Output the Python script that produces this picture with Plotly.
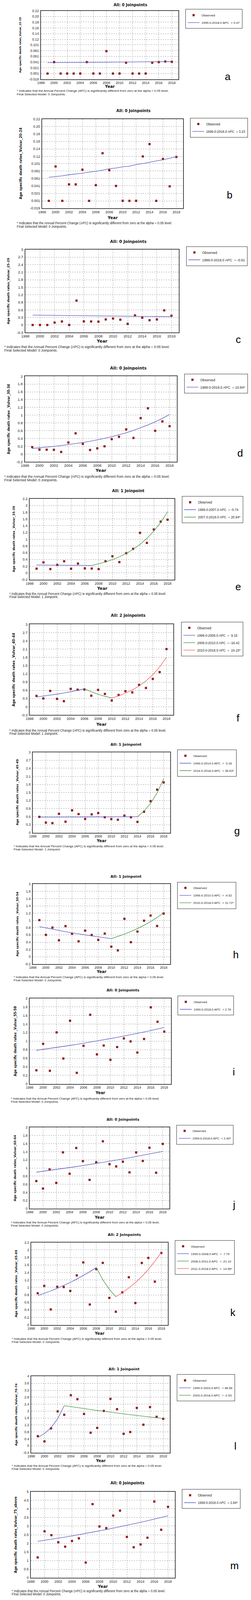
import plotly.graph_objects as go

W, H = 643, 5608
# the photographed area stops near 4096 px, so the page layout is packed into that height
VS = 4080 / 5608

# ── Data ──────────────────────────────────────────────────────────────────────

YEARS = list(range(1999, 2019))
X_TICKS = ["1998", "2000", "2002", "2004", "2006", "2008", "2010", "2012", "2014", "2016", "2018"]

TICKS_SMALL = ["-0.019", "0.001", "0.021", "0.041", "0.061", "0.081", "0.101",
               "0.12", "0.14", "0.16", "0.18", "0.20", "0.22"]
TICKS_03_3 = ["-0.3", "0", "0.3", "0.6", "0.9", "1.2", "1.5", "1.8", "2.1", "2.4", "2.7", "3"]
TICKS_02_2 = ["-0.2", "0", "0.2", "0.4", "0.6", "0.8", "1", "1.2", "1.4", "1.6", "1.8", "2"]
TICKS_02_22 = ["-0.2", "0", "0.2", "0.4", "0.6", "0.8", "1", "1.2", "1.4", "1.6", "1.8", "2", "2.2"]
TICKS_0_3 = ["0", "0.3", "0.6", "0.9", "1.2", "1.5", "1.8", "2.1", "2.4", "2.7", "3"]
TICKS_0_2 = ["0", "0.2", "0.4", "0.6", "0.8", "1", "1.2", "1.4", "1.6", "1.8", "2"]
TICKS_0_22 = ["0", "0.2", "0.4", "0.6", "0.8", "1", "1.2", "1.4", "1.6", "1.8", "2", "2.2"]
TICKS_04_4 = ["-0.4", "0", "0.4", "0.8", "1.2", "1.6", "2", "2.4", "2.8", "3.2", "3.6", "4"]
TICKS_0_5 = ["0", "0.5", "1", "1.5", "2", "2.5", "3", "3.5", "4", "4.5", "5"]

A_OBS = [0.001, 0.041, 0.001, 0.001, 0.001, 0.001, 0.041, 0.001, 0.001, 0.079,
         0.001, 0.001, 0.039, 0.001, 0.001, 0.001, 0.039, 0.041, 0.043, 0.042]
A_FIT = [[0.0390, 0.0392, 0.0394, 0.0396, 0.0398, 0.0400, 0.0402, 0.0404, 0.0405, 0.0407,
          0.0409, 0.0411, 0.0413, 0.0415, 0.0417, 0.0419, 0.0421, 0.0423, 0.0425, 0.0427]]
A_JOINS = [1999, 2018]
A_LEG = ["1999.0-2018.0 APC  = 0.47"]

B_OBS = [0.001, 0.093, 0.001, 0.045, 0.045, 0.0845, 0.001, 0.043, 0.1286, 0.083,
         0.041, 0.001, 0.001, 0.001, 0.120, 0.153, 0.001, 0.113, 0.040, 0.1185]
B_FIT = [[0.064, 0.066, 0.068, 0.071, 0.073, 0.075, 0.078, 0.080, 0.083, 0.087,
          0.089, 0.092, 0.094, 0.098, 0.101, 0.104, 0.108, 0.111, 0.115, 0.119]]
B_JOINS = [1999, 2018]
B_LEG = ["1999.0-2018.0 APC  = 3.23"]

C_OBS = [0, 0, 0, 0.094, 0.14, 0, 0.97, 0.143, 0.14, 0.132,
         0.22, 0.256, 0.21, 0.045, 0.38, 0.286, 0.19, 0.22, 0.58, 0.366]
C_FIT = [[0.392, 0.388, 0.385, 0.381, 0.378, 0.375, 0.371, 0.368, 0.365, 0.361,
          0.358, 0.355, 0.352, 0.348, 0.345, 0.342, 0.339, 0.336, 0.333, 0.330]]
C_JOINS = [1999, 2018]
C_LEG = ["1999.0-2018.0 APC  = -0.91"]

D_OBS = [0.178, 0.115, 0.112, 0.11, 0.054, 0.298, 0.532, 0.261, 0.105, 0.146,
         0.198, 0.383, 0.444, 0.634, 0.412, 0.922, 1.176, 0.598, 0.839, 0.717]
D_FIT = [[0.144, 0.160, 0.177, 0.196, 0.217, 0.241, 0.267, 0.296, 0.328, 0.363,
          0.403, 0.446, 0.495, 0.548, 0.608, 0.674, 0.747, 0.828, 0.917, 1.017]]
D_JOINS = [1999, 2018]
D_LEG = ["1999.0-2018.0 APC  = 10.84*"]

E_OBS = [0.129, 0.314, 0.118, 0.241, 0.348, 0.126, 0.28, 0.137, 0.132, 0.115,
         0.348, 0.497, 0.323, 0.586, 0.715, 1.192, 0.892, 1.29, 1.523, 1.579]
E_FIT = [[0.238, 0.236, 0.234, 0.233, 0.231, 0.229, 0.228, 0.226, 0.224],
         [0.224, 0.271, 0.328, 0.396, 0.479, 0.579, 0.701, 0.848, 1.025, 1.240, 1.499, 1.813]]
E_JOINS = [1999, 2007, 2018]
E_LEG = ["1999.0-2007.0 APC  = -0.74", "2007.0-2018.0 APC  = 20.94*"]

F_OBS = [0.396, 0.303, 0.578, 0.286, 0.203, 0.654, 0.623, 0.63, 0.403, 0.612,
         0.468, 0.23, 0.43, 0.568, 0.523, 0.795, 0.685, 1.015, 1.263, 2.102]
F_FIT = [[0.354, 0.386, 0.422, 0.460, 0.502, 0.548, 0.599, 0.654],
         [0.654, 0.547, 0.457, 0.382, 0.319],
         [0.319, 0.396, 0.492, 0.611, 0.758, 0.941, 1.168, 1.450, 1.800]]
F_JOINS = [1999, 2006, 2010, 2018]
F_LEG = ["1999.0-2006.0 APC  =  9.15", "2006.0-2010.0 APC  = -16.42", "2010.0-2018.0 APC  =  24.15*"]

G_OBS = [0.59, 0.375, 0.357, 0.703, 0.41, 0.834, 0.693, 0.512, 0.682, 0.731,
         0.576, 0.509, 0.484, 0.636, 0.576, 0.403, 0.781, 1.177, 1.604, 1.876]
G_FIT = [[0.580, 0.581, 0.582, 0.583, 0.584, 0.585, 0.585, 0.586, 0.587, 0.588,
          0.589, 0.590, 0.591, 0.592, 0.593, 0.594],
         [0.594, 0.806, 1.093, 1.482, 2.010]]
G_JOINS = [1999, 2014, 2018]
G_LEG = ["1999.0-2014.0 APC  =  0.16", "2014.0-2018.0 APC  = 35.63*"]

H_OBS = [1.009, 0.601, 0.803, 0.452, 0.844, 0.633, 0.424, 0.719, 0.599, 0.463,
         0.638, 0.277, 0.175, 1.043, 0.4, 0.693, 0.993, 1.135, 0.847, 1.19]
H_FIT = [[0.829, 0.792, 0.756, 0.721, 0.689, 0.658, 0.628, 0.600, 0.573, 0.547, 0.522, 0.498],
         [0.498, 0.556, 0.622, 0.694, 0.776, 0.867, 0.968, 1.082, 1.208]]
H_JOINS = [1999, 2010, 2018]
H_LEG = ["1999.0-2010.0 APC  = -4.52", "2010.0-2018.0 APC  = 11.72*"]

I_OBS = [0.319, 0.937, 0.306, 1.205, 0.594, 1.477, 0.259, 0.89, 1.617, 0.689,
         0.897, 0.563, 0.862, 1.063, 0.994, 0.733, 1.05, 1.79, 1.453, 1.223]
I_FIT = [[0.786, 0.808, 0.830, 0.853, 0.876, 0.900, 0.925, 0.951, 0.977, 1.004,
          1.032, 1.060, 1.089, 1.119, 1.150, 1.182, 1.215, 1.248, 1.283, 1.318]]
I_JOINS = [1999, 2018]
I_LEG = ["1999.0-2018.0 APC  = 2.76"]

J_OBS = [0.679, 0.495, 0.965, 0.635, 1.386, 0.86, 1.493, 1.17, 0.709, 1.142,
         1.658, 1.095, 1.04, 1.156, 0.893, 1.384, 1.174, 1.5, 0.884, 1.593]
J_FIT = [[0.898, 0.920, 0.942, 0.964, 0.987, 1.011, 1.035, 1.060, 1.086, 1.112,
          1.138, 1.166, 1.194, 1.222, 1.252, 1.282, 1.312, 1.344, 1.376, 1.409]]
J_JOINS = [1999, 2018]
J_LEG = ["1999.0-2018.0 APC  = 2.40*"]

K_OBS = [0.845, 1.044, 0.412, 1.016, 1.011, 0.908, 1.322, 1.669, 0.544, 1.489,
         1.656, 0.721, 0.351, 0.867, 1.272, 0.584, 1.654, 1.788, 1.156, 1.922]
K_FIT = [[0.781, 0.842, 0.907, 0.977, 1.053, 1.134, 1.222, 1.317, 1.419, 1.529],
         [1.529, 1.206, 0.952, 0.751],
         [0.751, 0.860, 0.985, 1.129, 1.293, 1.481, 1.697, 1.943]]
K_JOINS = [1999, 2008, 2011, 2018]
K_LEG = ["1999.0-2008.0 APC  =  7.75", "2008.0-2011.0 APC  = -21.10", "2011.0-2018.0 APC  =  14.55*"]

L_OBS = [0.557, 0.256, 1.005, 1.982, 1.79, 2.913, 2.685, 1.836, 0.758, 1.032,
         2.009, 2.703, 2.11, 0.694, 0.795, 2.183, 1.215, 2.228, 1.671, 1.553]
L_FIT = [[0.475, 0.706, 1.048, 1.557, 2.314],
         [2.314, 2.255, 2.198, 2.143, 2.089, 2.036, 1.984, 1.934, 1.885, 1.837,
          1.791, 1.746, 1.701, 1.658, 1.616, 1.575]]
L_JOINS = [1999, 2003, 2018]
L_LEG = ["1999.0-2003.0 APC  = 48.56", "2003.0-2018.0 APC  = -2.53"]

M_OBS = [1.183, 2.699, 2.477, 2.07, 1.811, 2.135, 2.292, 0.887, 4.279, 2.985,
         2.884, 3.614, 3.9, 2.375, 1.775, 1.941, 2.329, 4.427, 2.791, 4.122]
M_FIT = [[2.117, 2.177, 2.239, 2.303, 2.368, 2.435, 2.505, 2.576, 2.649, 2.724,
          2.802, 2.881, 2.963, 3.047, 3.134, 3.223, 3.314, 3.408, 3.505, 3.605]]
M_JOINS = [1999, 2018]
M_LEG = ["1999.0-2018.0 APC  = 2.84*"]

# panel: letter, data, y title, chart title, footnote model, y ticks
PANELS = [
    ("a", A_OBS, A_FIT, A_JOINS, A_LEG, "Age specific death rates_Vulvar_15-19", "All: 0 Joinpoints", "0 Joinpoints", TICKS_SMALL),
    ("b", B_OBS, B_FIT, B_JOINS, B_LEG, "Age specific death rates_Vulvar_20-24", "All: 0 Joinpoints", "0 Joinpoints", TICKS_SMALL),
    ("c", C_OBS, C_FIT, C_JOINS, C_LEG, "Age specific death rates_Vulvar_25-29", "All: 0 Joinpoints", "0 Joinpoints", TICKS_03_3),
    ("d", D_OBS, D_FIT, D_JOINS, D_LEG, "Age specific death rates _Vulvar_30-34", "All: 0 Joinpoints", "0 Joinpoints", TICKS_02_2),
    ("e", E_OBS, E_FIT, E_JOINS, E_LEG, "Age specific death rates _Vulvar_35-39", "All: 1 Joinpoint", "1 Joinpoint", TICKS_02_22),
    ("f", F_OBS, F_FIT, F_JOINS, F_LEG, "Age specific death rates _Vulvar_40-44", "All: 2 Joinpoints", "1 Joinpoint", TICKS_03_3),
    ("g", G_OBS, G_FIT, G_JOINS, G_LEG, "Age specific death rates _Vulvar_45-49", "All: 1 Joinpoint", "1 Joinpoint", TICKS_0_3),
    ("h", H_OBS, H_FIT, H_JOINS, H_LEG, "Age specific death rates _Vulvar_50-54", "All: 1 Joinpoint", "0 Joinpoints", TICKS_02_2),
    ("i", I_OBS, I_FIT, I_JOINS, I_LEG, "Age specific death rates _Vulvar_55-59", "All: 0 Joinpoints", "0 Joinpoints", TICKS_0_2),
    ("j", J_OBS, J_FIT, J_JOINS, J_LEG, "Age specific death rates_Vulvar_60-64", "All: 0 Joinpoints", "0 Joinpoints", TICKS_0_2),
    ("k", K_OBS, K_FIT, K_JOINS, K_LEG, "Age specific death rates _Vulvar_65-69", "All: 2 Joinpoints", "0 Joinpoints", TICKS_0_22),
    ("l", L_OBS, L_FIT, L_JOINS, L_LEG, "Age specific death rates_Vulvar_70-74", "All: 1 Joinpoint", "0 Joinpoints", TICKS_04_4),
    ("m", M_OBS, M_FIT, M_JOINS, M_LEG, "Age specific death rates_Vulvar_75_above", "All: 0 Joinpoints", "0 Joinpoints", TICKS_0_5),
]

# ── Page geometry in pixels of the reference (kept apart from the data) ──────
# plot x0, x1, y0, y1 | title x, y | legend x, y | y-title x | "Year" y |
# footnote x, line1 y | letter x, y | font scale | y-title size
GEOM = [
    (97, 449, 27, 268, 326, 6, 467, 21, 44, 293, 33, 309, 575, 258, 0.92, 8.3),
    (100, 461, 408, 722, 334, 378, 479, 404, 45, 754, 33, 775, 580, 675, 0.94, 10.7),
    (57, 450, 867, 1159, 320, 839, 469, 856, 14, 1189, 1, 1209, 602, 1183, 1.0, 9.9),
    (56, 445, 1313, 1614, 320, 1284, 464, 1304, 14, 1645, 1, 1666, 607, 1584, 1.0, 10.3),
    (68, 439, 1744, 2029, 320, 1716, 458, 1735, 27, 2059, 14, 2078, 602, 2053, 0.95, 9.7),
    (68, 436, 2186, 2505, 320, 2155, 456, 2177, 27, 2537, 14, 2559, 602, 2515, 0.95, 10.8),
    (76, 428, 2636, 2919, 315, 2608, 446, 2627, 37, 2948, 25, 2967, 599, 2913, 0.91, 9.7),
    (76, 428, 3100, 3381, 315, 3073, 446, 3092, 37, 3408, 25, 3427, 596, 3348, 0.91, 9.5),
    (68, 430, 3502, 3803, 307, 3473, 447, 3493, 31, 3834, 18, 3855, 591, 3760, 0.90, 10.3),
    (68, 426, 3956, 4242, 307, 3928, 444, 3947, 30, 4272, 18, 4291, 591, 4228, 0.90, 9.9),
    (72, 422, 4361, 4651, 310, 4333, 440, 4353, 33, 4681, 20, 4700, 589, 4608, 0.91, 9.9),
    (72, 427, 4832, 5101, 310, 4806, 445, 4825, 33, 5129, 20, 5147, 595, 5077, 0.91, 9.3),
    (71, 440, 5238, 5541, 318, 5208, 458, 5229, 32, 5571, 20, 5588, 593, 5498, 0.93, 10.4),
]

SEG_COLORS = ["#5459c2", "#3f9440", "#f25a5a"]
MARKER_COLOR = "#9c1616"
SANS = "Liberation Sans, Arial, sans-serif"
BOLD = "DejaVu Sans, Verdana, sans-serif"
FOOT1 = "* Indicates that the Annual Percent Change (APC) is significantly different from zero at the alpha = 0.05 level."


def px_x(v):
    return v / W


def px_y(v):
    return 1 - v * VS / H


fig = go.Figure()
annotations = []
layout_axes = {}

for i, (panel, geom) in enumerate(zip(PANELS, GEOM), start=1):
    letter, obs, fits, joins, leg_labels, ytitle, title, model, yticks = panel
    (x0, x1, y0, y1, tx, ty, lx, ly, ytx, year_y,
     fx, fy1, letx, lety, s, yts) = geom

    xa = "x" if i == 1 else f"x{i}"
    ya = "y" if i == 1 else f"y{i}"
    lg = "legend" if i == 1 else f"legend{i}"

    # observed points
    fig.add_trace(go.Scatter(
        x=YEARS, y=obs, mode="markers", name="Observed",
        marker=dict(symbol="square", size=5, color=MARKER_COLOR,
                    line=dict(width=0.5, color="#6b0b0b")),
        xaxis=xa, yaxis=ya, legend=lg,
    ))
    # fitted joinpoint segments
    for k, vals in enumerate(fits):
        seg_years = list(range(joins[k], joins[k + 1] + 1))
        fig.add_trace(go.Scatter(
            x=seg_years, y=vals, mode="lines", name=leg_labels[k],
            line=dict(color=SEG_COLORS[k], width=1.3),
            xaxis=xa, yaxis=ya, legend=lg,
        ))

    tick_vals = [float(t) for t in yticks]
    axis_common = dict(
        showline=True, mirror=True, linecolor="#4a4a4a", linewidth=1.5,
        showgrid=True, gridcolor="#9d9d9d", griddash="dot", gridwidth=1,
        zeroline=False, ticks="", tickfont=dict(family=SANS, size=9.5 * s, color="#222"),
    )
    layout_axes["xaxis" if i == 1 else f"xaxis{i}"] = dict(
        axis_common, domain=[px_x(x0), px_x(x1)], anchor=ya, range=[1998, 2019],
        tickvals=[int(t) for t in X_TICKS], ticktext=X_TICKS,
    )
    layout_axes["yaxis" if i == 1 else f"yaxis{i}"] = dict(
        axis_common, domain=[px_y(y1), px_y(y0)], anchor=xa,
        range=[tick_vals[0], tick_vals[-1]], tickvals=tick_vals, ticktext=yticks,
        ticklabelstandoff=2,
    )
    layout_axes[lg] = dict(
        x=px_x(lx), y=px_y(ly), xanchor="left", yanchor="top",
        bordercolor="#333", borderwidth=1, bgcolor="white", tracegroupgap=0,
        font=dict(family=SANS, size=8.8 * s, color="#222"), itemwidth=30,
    )

    foot_y2 = fy1 * VS + 9 * s  # second footnote line, in page pixels
    annotations += [
        dict(text=f"<b>{title}</b>", x=px_x(tx), y=px_y(ty), xanchor="center", yanchor="middle",
             font=dict(family=BOLD, size=10.5 * s, color="#111")),
        dict(text=f"<b>{ytitle}</b>", x=px_x(ytx), y=px_y((y0 + y1) / 2), textangle=-90,
             xanchor="center", yanchor="middle", font=dict(family=BOLD, size=yts * 0.8, color="#111")),
        dict(text="<b>Year</b>", x=px_x((x0 + x1) / 2), y=px_y(year_y), xanchor="center", yanchor="middle",
             font=dict(family=BOLD, size=11 * s, color="#111")),
        dict(text=FOOT1, x=px_x(fx), y=px_y(fy1), xanchor="left", yanchor="middle",
             font=dict(family=SANS, size=8.8 * s, color="#222")),
        dict(text=f"Final Selected Model: {model}.", x=px_x(fx), y=1 - foot_y2 / H,
             xanchor="left", yanchor="middle", font=dict(family=SANS, size=8.8 * s, color="#222")),
        dict(text=letter, x=px_x(letx), y=px_y(lety), xanchor="center", yanchor="middle",
             font=dict(family=SANS, size=26, color="#000")),
    ]

for a in annotations:
    a.update(xref="paper", yref="paper", showarrow=False)

fig.update_layout(
    width=W, height=H, margin=dict(l=0, r=0, t=0, b=0, autoexpand=False),
    paper_bgcolor="white", plot_bgcolor="white",
    showlegend=True, annotations=annotations, **layout_axes,
)

fig.write_html("out.html")
